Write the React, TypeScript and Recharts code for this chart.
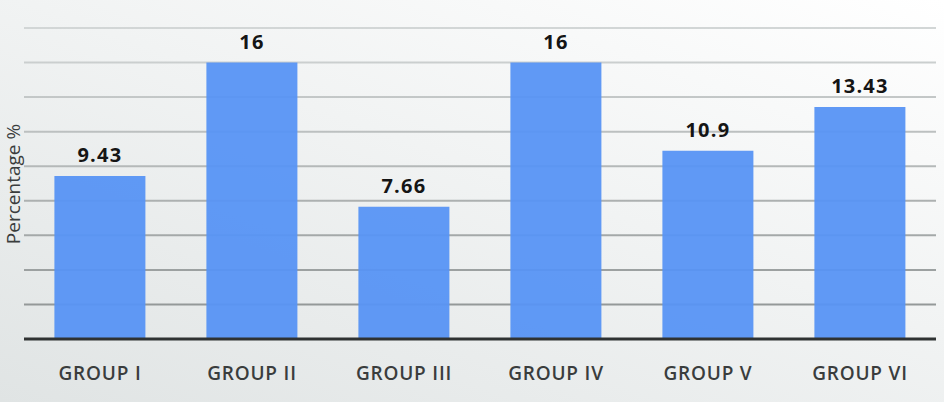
import { Bar, BarChart, CartesianGrid, LabelList, XAxis, YAxis } from "recharts";

const groups = ["GROUP I", "GROUP II", "GROUP III", "GROUP IV", "GROUP V", "GROUP VI"];
const percentages = [9.43, 16, 7.66, 16, 10.9, 13.43];
const yTicks = [0, 2, 4, 6, 8, 10, 12, 14, 16, 18];

const data = groups.map((g, i) => ({ group: g, value: percentages[i] }));

const font = "'Open Sans', 'DejaVu Sans', sans-serif";

const YLabel = () => (
  <text
    x={13}
    y={184}
    transform="rotate(-90 13 184)"
    textAnchor="middle"
    dominantBaseline="central"
    fontFamily={font}
    fontSize={19}
    fill="#3a3d3d"
  >
    Percentage %
  </text>
);

export default function App() {
  return (
    <div
      style={{
        position: "absolute",
        left: 0,
        top: 0,
        width: 944,
        height: 402,
        background: "linear-gradient(200deg, #ffffff 0%, #f1f3f3 45%, #e0e4e4 100%)",
      }}
    >
      <BarChart
        width={944}
        height={402}
        data={data}
        margin={{ top: 28, right: 8, left: 0, bottom: 0 }}
        barCategoryGap="20%"
      >
        <defs>
          <linearGradient id="gridFade" gradientUnits="userSpaceOnUse" x1="0" y1="28" x2="0" y2="339">
            <stop offset="0%" stopColor="#d2d6d6" />
            <stop offset="45%" stopColor="#b4b8b8" />
            <stop offset="100%" stopColor="#8c9191" />
          </linearGradient>
        </defs>
        <CartesianGrid vertical={false} stroke="url(#gridFade)" strokeWidth={2} />
        <XAxis
          dataKey="group"
          height={63}
          axisLine={{ stroke: "#2f3232", strokeWidth: 3 }}
          tickLine={false}
          tickMargin={22}
          tick={{ fontSize: 19, fontWeight: 600, fill: "#3a3d3d", fontFamily: font, letterSpacing: 0.8 }}
        />
        <YAxis
          width={24}
          domain={[0, 18]}
          ticks={yTicks}
          tick={() => <g />}
          axisLine={false}
          tickLine={false}
          label={{ content: <YLabel /> }}
        />
        <Bar dataKey="value" fill="#5793f4" fillOpacity={0.95} isAnimationActive={false}>
          <LabelList
            dataKey="value"
            position="top"
            offset={14}
            fill="#151515"
            fontSize={20}
            fontWeight={700}
            fontFamily={font}
            letterSpacing={1.2}
          />
        </Bar>
      </BarChart>
    </div>
  );
}
